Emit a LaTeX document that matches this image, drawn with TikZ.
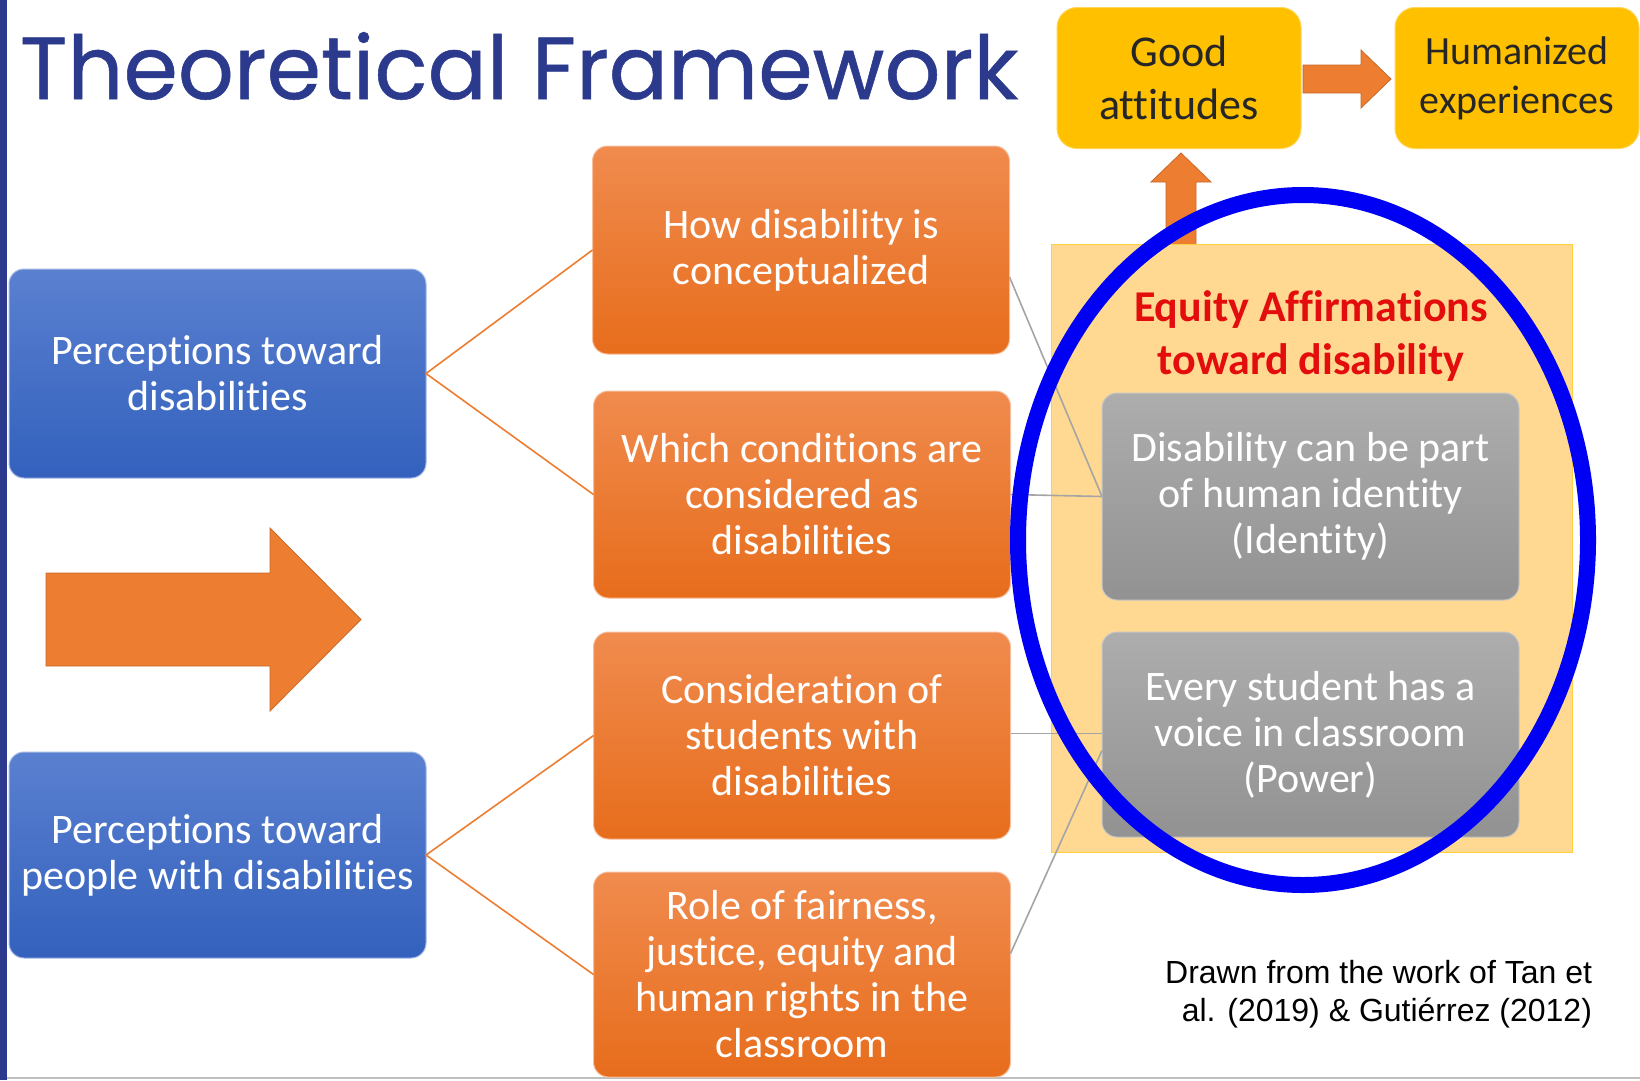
\documentclass[tikz,border=0pt]{standalone}
\usepackage{fontspec}
\setmainfont[Ligatures=NoCommon]{Carlito}
\newfontfamily\titlefont[FakeBold=0.6]{Poppins}
\newfontfamily\notefont{Liberation Sans}

\definecolor{navy}{HTML}{2C3A8E}
\definecolor{accOrange}{HTML}{ED7D31}
\definecolor{blueTop}{HTML}{5A80D0}
\definecolor{blueBot}{HTML}{3361BD}
\definecolor{orTop}{HTML}{F08B4E}
\definecolor{orBot}{HTML}{E76D1C}
\definecolor{grTop}{HTML}{ADADAD}
\definecolor{grBot}{HTML}{929292}
\definecolor{gold}{HTML}{FFC000}
\definecolor{paleGold}{HTML}{FFD991}
\definecolor{lineGray}{HTML}{A5A5A5}
\definecolor{eqRed}{HTML}{E30D0D}
\definecolor{ringBlue}{HTML}{0000F5}

\begin{document}
\begin{tikzpicture}[x=1pt,y=1pt,
  every node/.style={inner sep=0,outer sep=0},
  box/.style={rounded corners=15pt,minimum width=417pt,minimum height=207pt,
    align=center,text=white,font=\fontsize{42}{46}\selectfont},
  bluebox/.style={box,top color=blueTop,bottom color=blueBot,draw=blueTop!55!white,line width=1pt},
  orangebox/.style={box,top color=orTop,bottom color=orBot,draw=orTop!55!white,line width=1pt},
  graybox/.style={box,top color=grTop,bottom color=grBot,draw=grTop!70!white,line width=1pt},
  goldbox/.style={rounded corners=20pt,fill=gold,draw=gold!65!white,line width=1pt,
    minimum width=244pt,minimum height=141pt,align=center,text=black!85},
  orangeline/.style={draw=accOrange,line width=1.6pt},
  grayline/.style={draw=lineGray,line width=1.6pt},
  blockarrow/.style={fill=accOrange,draw=accOrange!85!black,line width=0.8pt}]

  \useasboundingbox (0,0) rectangle (1640,-1080);
  \fill[white] (0,0) rectangle (1640,-1080);
  \fill[navy] (0,0) rectangle (7,-1080);
  \draw[black!25,line width=2pt] (7,-1078) -- (1640,-1078);

  %% Heading.
  \node[anchor=base west,text=navy,xscale=0.996,font=\titlefont\fontsize{88}{92}\selectfont] (H) at (20,-99) {Theoretical Framework};

  %% Outcomes on top.
  \node[goldbox,font=\fontsize{44}{53}\selectfont] (Y1) at (1179,-78) {Good\\attitudes};
  \node[goldbox,font=\fontsize{40}{49}\selectfont] (Y2) at (1517,-78) {Humanized\\experiences};
  \fill[blockarrow] (1303,-65) -- (1361,-65) -- (1361,-50) -- (1391,-79)
    -- (1361,-108) -- (1361,-93) -- (1303,-93) -- cycle;
  \fill[blockarrow] (1166,-250) -- (1166,-182) -- (1151,-182) -- (1181,-153)
    -- (1211,-182) -- (1196,-182) -- (1196,-250) -- cycle;

  %% Equity panel.
  \node[fill=paleGold,draw=gold!75!white,line width=1pt,minimum width=521pt,minimum height=608pt] (EQ) at (1311.5,-548) {};
  \node[text=eqRed,align=center,font=\bfseries\fontsize{44}{53}\selectfont] (T) at (1311,-336) {Equity Affirmations\\toward disability};
  \node[graybox] (G1) at (1310.5,-496.5) {Disability can be part\\of human identity\\(Identity)};
  \node[graybox,minimum height=205pt] (G2) at (1310.5,-734.5) {Every student has a\\voice in classroom\\(Power)};

  %% Left column.
  \node[bluebox,minimum height=209pt] (B1) at (217.5,-373.5) {Perceptions toward\\disabilities};
  \node[bluebox,minimum height=206pt] (B2) at (217.5,-855) {Perceptions toward\\people with disabilities};
  \fill[blockarrow] (46,-573) -- (270,-573) -- (270,-528) -- (361,-619.5)
    -- (270,-711) -- (270,-666) -- (46,-666) -- cycle;

  %% Middle column.
  \node[orangebox,minimum height=208pt] (O1) at (801,-250) {How disability is\\conceptualized};
  \node[orangebox] (O2) at (802,-494.5) {Which conditions are\\considered as\\disabilities};
  \node[orangebox] (O3) at (802,-735.5) {Consideration of\\students with\\disabilities};
  \node[orangebox,minimum height=205pt] (O4) at (802,-974.5) {Role of fairness,\\justice, equity and\\human rights in the\\classroom};

  \draw[orangeline] (O1.west) -- (B1.east) -- (O2.west);
  \draw[orangeline] (O3.west) -- (B2.east) -- (O4.west);

  \draw[grayline] ([yshift=-27pt]O1.east) -- (G1.west);
  \draw[grayline] (O2.east) -- (G1.west);
  \draw[grayline] ([yshift=2pt]O3.east) -- ([yshift=1pt]G2.west);
  \draw[grayline] ([yshift=21pt]O4.east) -- ([yshift=-16pt]G2.west);

  \node[anchor=east,align=right,font=\notefont\fontsize{32}{38}\selectfont] (N) at (1592,-994)
    {Drawn from the work of Tan et\\al. (2019) \& Gutiérrez (2012)};

  %% Highlight ring.
  \draw[ringBlue,line width=16pt] (1303,-540) ellipse [x radius=285, y radius=345];
\end{tikzpicture}
\end{document}
